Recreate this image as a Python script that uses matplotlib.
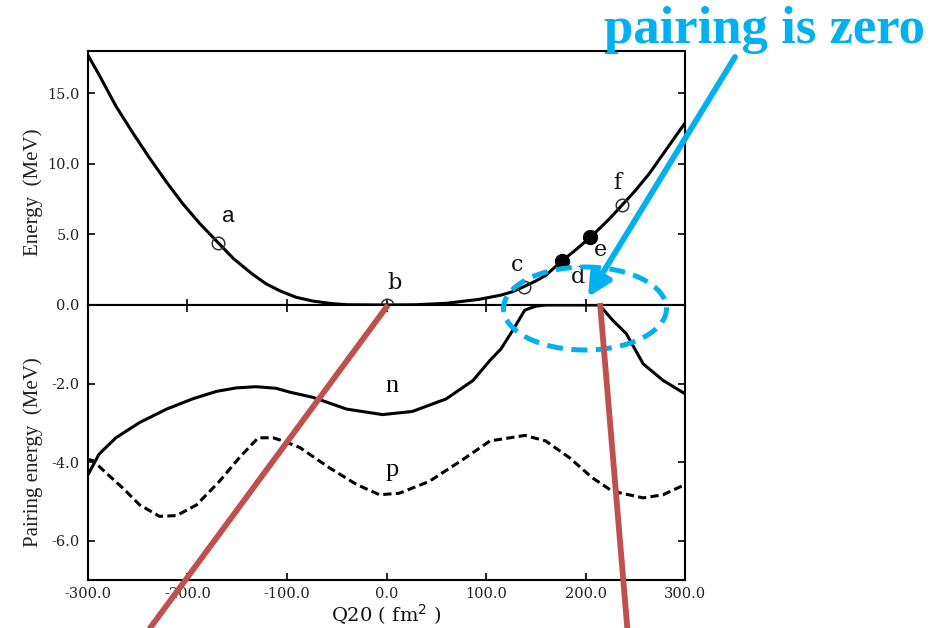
import matplotlib
matplotlib.use("Agg")
import matplotlib.pyplot as plt
import numpy as np
from matplotlib.patches import Ellipse

# deformation energy curve, Q20 (fm^2) vs E (MeV)
q_energy = [-300, -288, -272, -255, -238, -221, -205, -188, -169, -154, -135,
            -121, -107, -91, -74, -55, -40, 0, 30, 60, 93, 115, 127, 138, 150,
            160, 176, 190, 205, 224, 237, 250, 264, 281, 300]
energy = [17.7, 16.2, 14.1, 12.2, 10.4, 8.7, 7.2, 5.8, 4.4, 3.3, 2.2,
          1.5, 1.0, 0.55, 0.28, 0.1, 0.02, 0.0, 0.02, 0.12, 0.4, 0.7, 0.95, 1.3, 1.7,
          2.1, 3.1, 3.9, 4.8, 6.1, 7.1, 8.1, 9.3, 11.0, 12.9]

# selected configurations on the energy curve
point_names = ['a', 'b', 'c', 'd', 'e', 'f']
point_q = [-169, 0, 138, 176, 205, 237]
point_e = [4.4, 0.0, 1.3, 3.1, 4.8, 7.1]
point_filled = [False, False, False, True, True, False]

# neutron pairing energy
q_n = [-300, -289, -272, -248, -221, -195, -171, -151, -131, -111, -97, -74,
       -40, -4, 26, 60, 87, 104, 115, 127, 139, 150, 160, 214, 227, 241, 258,
       278, 300]
pair_n = [-4.32, -3.80, -3.38, -2.99, -2.65, -2.39, -2.20, -2.11, -2.08, -2.12,
          -2.22, -2.35, -2.65, -2.79, -2.71, -2.39, -1.92, -1.41, -1.12, -0.64,
          -0.13, -0.03, 0.0, 0.0, -0.38, -0.73, -1.50, -1.92, -2.26]

# proton pairing energy
q_p = [-300, -295, -282, -265, -248, -228, -211, -191, -168, -148, -129, -114,
       -104, -87, -57, -30, -7, 13, 43, 77, 104, 114, 139, 160, 184, 207, 227,
       258, 278, 300]
pair_p = [-3.93, -3.96, -4.27, -4.66, -5.09, -5.38, -5.36, -5.09, -4.49, -3.89,
          -3.38, -3.38, -3.46, -3.63, -4.15, -4.57, -4.83, -4.79, -4.49, -3.93,
          -3.46, -3.42, -3.32, -3.46, -3.89, -4.40, -4.74, -4.91, -4.83, -4.57]

x_ticks = [-300, -200, -100, 0, 100, 200, 300]
e_ticks = [0, 5, 10, 15]
p_ticks = [-6, -4, -2]

W, H = 940, 628
BLUE = '#00B0F0'
RED = '#C0504D'
TICK_FONT = dict(family='DejaVu Serif', size=10.5, color='#222222')

fig = plt.figure(figsize=(W / 100, H / 100), dpi=100)
x0, x1 = 88, 685
ax_e = fig.add_axes([x0 / W, 1 - 305 / H, (x1 - x0) / W, (305 - 51) / H])
ax_p = fig.add_axes([x0 / W, 1 - 580 / H, (x1 - x0) / W, (580 - 305) / H])

for ax in (ax_e, ax_p):
    ax.set_xlim(-300, 300)
    for s in ax.spines.values():
        s.set_linewidth(1.5)
    ax.tick_params(direction='in', width=1.2, length=5, left=True, right=True,
                   pad=6)

# upper panel: energy
ax_e.plot(q_energy, energy, color='black', lw=2.2)
for name, q, e, filled in zip(point_names, point_q, point_e, point_filled):
    if filled:
        ax_e.plot(q, e, 'o', ms=10, color='black', zorder=4)
    else:
        ax_e.plot(q, e, 'o', ms=9, mfc='none', mec='#333333', mew=1.1, zorder=4)

label_off = {'a': (10, -26), 'b': (8, -22), 'c': (-7, -22),
             'd': (16, 16), 'e': (10, 13), 'f': (-5, -22)}
for name, q, e in zip(point_names, point_q, point_e):
    dx, dy = label_off[name]
    fam = 'Liberation Sans' if name == 'a' else 'DejaVu Serif'
    ax_e.annotate(name, (q, e), xytext=(dx * 0.72, -dy * 0.72),
                  textcoords='offset points', ha='center', va='center',
                  fontsize=16, family=fam, color='#111111')

ax_e.set_ylim(0, 18)
ax_e.set_yticks(e_ticks)
ax_e.set_yticklabels(['%.1f' % v for v in e_ticks], **TICK_FONT)
ax_e.set_xticks(x_ticks[1:-1])
ax_e.tick_params(axis='x', labelbottom=False, length=4)
ax_e.tick_params(axis='y', length=5)

# lower panel: pairing energies
ax_p.plot(q_n, pair_n, color='black', lw=2.2)
ax_p.plot(q_p, pair_p, color='black', lw=2.2, linestyle=(0, (2.7, 1.4)))
ax_p.text(6, -2.05, 'n', ha='center', va='center', fontsize=19,
          family='Liberation Serif')
ax_p.text(6, -4.2, 'p', ha='center', va='center', fontsize=19,
          family='Liberation Serif')
ax_p.set_ylim(-7, 0)
ax_p.set_yticks(p_ticks)
ax_p.set_yticklabels(['%.1f' % v for v in p_ticks], **TICK_FONT)
ax_p.set_xticks(x_ticks)
ax_p.set_xticklabels(['%.1f' % v for v in x_ticks], **TICK_FONT)
ax_p.tick_params(axis='x', top=True, length=5, pad=5)
ax_p.set_xlabel(r'Q20 ( fm$^2$ )', family='DejaVu Serif', fontsize=14,
                color='#111111', labelpad=1)

fig.text(33 / W, 1 - 192 / H, 'Energy  (MeV)', rotation=90, ha='center',
         va='center', family='Liberation Serif', fontsize=15, color='#222222')
fig.text(33 / W, 1 - 452 / H, 'Pairing energy  (MeV)', rotation=90,
         ha='center', va='center', family='Liberation Serif', fontsize=15,
         color='#222222')

# overlay in pixel units for the callouts
ov = fig.add_axes([0, 0, 1, 1], facecolor='none')
ov.set_xlim(0, W)
ov.set_ylim(H, 0)
ov.axis('off')

ov.plot([388, 128], [305, 658], color=RED, lw=4.2, solid_capstyle='butt')
ov.plot([600, 630], [303, 660], color=RED, lw=4.2, solid_capstyle='butt')

ov.add_patch(Ellipse((585, 308.5), 163, 83, fill=False, edgecolor=BLUE,
                     lw=3.6, linestyle=(0, (3.2, 1.7))))

ov.annotate('', xy=(588, 297), xytext=(735, 57),
            arrowprops=dict(arrowstyle='-|>,head_length=1.4,head_width=0.7',
                            color=BLUE, lw=4.2, shrinkA=0, shrinkB=0))
ov.text(765, 43, 'pairing is zero', ha='center', va='baseline',
        family='Liberation Serif', weight='bold', fontsize=38, color=BLUE)

fig.savefig('out.png', dpi=100)
